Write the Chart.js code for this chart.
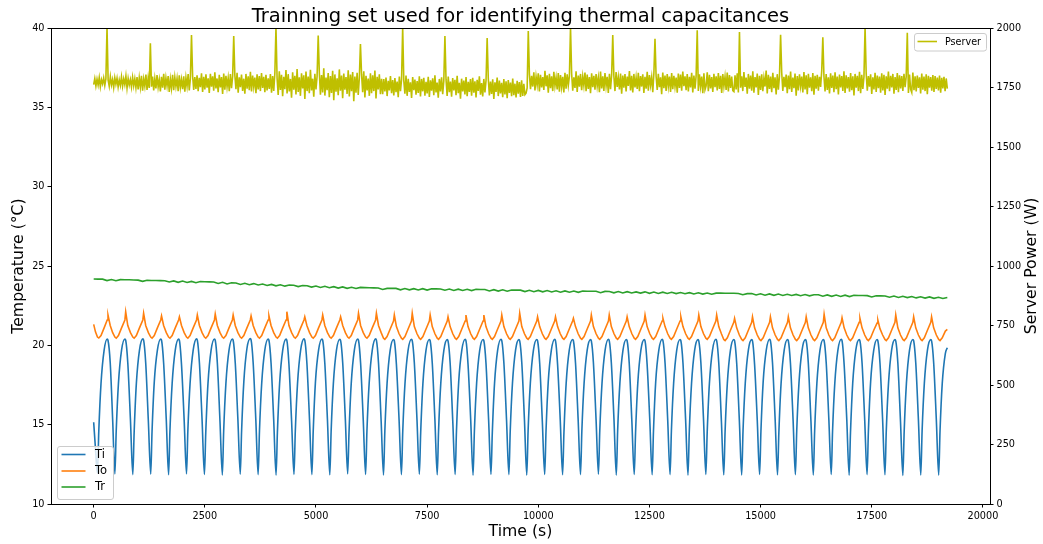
<!DOCTYPE html>
<html>
<head>
<meta charset="utf-8">
<style>
  html, body { margin: 0; padding: 0; background: #ffffff; }
  canvas { display: block; }
</style>
<script src="https://cdn.jsdelivr.net/npm/chart.js"></script>
</head>
<body>
<canvas id="c" width="1043" height="544"></canvas>
<script>
// ---------------- DATA ----------------
const chartTitle = 'Trainning set used for identifying thermal capacitances';
const xTitle = 'Time (s)';
const yTitle = 'Temperature (°C)';
const y2Title = 'Server Power (W)';

const xTicks = [0, 2500, 5000, 7500, 10000, 12500, 15000, 17500, 20000];
const yTicks = [10, 15, 20, 25, 30, 35, 40];
const y2Ticks = [0, 250, 500, 750, 1000, 1250, 1500, 1750, 2000];

// time stamps (s) of the Ti / To key points
const tempTime = [
  0, 40, 85, 115, 165, 235, 304, 322, 372, 427,
  477, 507, 557, 627, 702, 720, 767, 827,
  880, 910, 960, 1030, 1105, 1123, 1170, 1230,
  1283, 1313, 1363, 1433, 1508, 1526, 1573, 1633,
  1685, 1715, 1765, 1835, 1910, 1928, 1975, 2035,
  2088, 2118, 2168, 2238, 2313, 2331, 2378, 2438,
  2491, 2521, 2571, 2641, 2716, 2734, 2781, 2841,
  2894, 2924, 2974, 3044, 3119, 3137, 3184, 3244,
  3297, 3327, 3377, 3447, 3522, 3540, 3587, 3647,
  3699, 3729, 3779, 3849, 3924, 3942, 3989, 4049,
  4102, 4132, 4182, 4252, 4327, 4345, 4392, 4452,
  4505, 4535, 4585, 4655, 4730, 4748, 4795, 4855,
  4908, 4938, 4988, 5058, 5133, 5151, 5198, 5258,
  5311, 5341, 5391, 5461, 5536, 5554, 5601, 5661,
  5713, 5743, 5793, 5863, 5938, 5956, 6003, 6063,
  6116, 6146, 6196, 6266, 6341, 6359, 6406, 6466,
  6519, 6549, 6599, 6669, 6744, 6762, 6809, 6869,
  6922, 6952, 7002, 7072, 7147, 7165, 7212, 7272,
  7325, 7355, 7405, 7475, 7550, 7568, 7615, 7675,
  7727, 7757, 7807, 7877, 7952, 7970, 8017, 8077,
  8130, 8160, 8210, 8280, 8355, 8373, 8420, 8480,
  8533, 8563, 8613, 8683, 8758, 8776, 8823, 8883,
  8936, 8966, 9016, 9086, 9161, 9179, 9226, 9286,
  9339, 9369, 9419, 9489, 9564, 9582, 9629, 9689,
  9741, 9771, 9821, 9891, 9966, 9984, 10031, 10091,
  10144, 10174, 10224, 10294, 10369, 10387, 10434, 10494,
  10547, 10577, 10627, 10697, 10772, 10790, 10837, 10897,
  10950, 10980, 11030, 11100, 11175, 11193, 11240, 11300,
  11353, 11383, 11433, 11503, 11578, 11596, 11643, 11703,
  11755, 11785, 11835, 11905, 11980, 11998, 12045, 12105,
  12158, 12188, 12238, 12308, 12383, 12401, 12448, 12508,
  12561, 12591, 12641, 12711, 12786, 12804, 12851, 12911,
  12964, 12994, 13044, 13114, 13189, 13207, 13254, 13314,
  13367, 13397, 13447, 13517, 13592, 13610, 13657, 13717,
  13769, 13799, 13849, 13919, 13994, 14012, 14059, 14119,
  14172, 14202, 14252, 14322, 14397, 14415, 14462, 14522,
  14575, 14605, 14655, 14725, 14800, 14818, 14865, 14925,
  14978, 15008, 15058, 15128, 15203, 15221, 15268, 15328,
  15381, 15411, 15461, 15531, 15606, 15624, 15671, 15731,
  15783, 15813, 15863, 15933, 16008, 16026, 16073, 16133,
  16186, 16216, 16266, 16336, 16411, 16429, 16476, 16536,
  16589, 16619, 16669, 16739, 16814, 16832, 16879, 16939,
  16992, 17022, 17072, 17142, 17217, 17235, 17282, 17342,
  17395, 17425, 17475, 17545, 17620, 17638, 17685, 17745,
  17797, 17827, 17877, 17947, 18022, 18040, 18087, 18147,
  18200, 18230, 18280, 18350, 18425, 18443, 18490, 18550,
  18603, 18633, 18683, 18753, 18828, 18846, 18893, 18953,
  19006, 19036, 19086, 19156, 19200
];

// Ti (°C)
const ti = [
  15.15, 13.5, 11.95, 14.6, 17.6, 19.7, 20.4, 20.32, 18.9, 15.3,
  11.9, 14.6, 17.6, 19.7, 20.4, 20.32, 18.9, 15.3,
  11.85, 14.5, 17.6, 19.7, 20.41, 20.33, 18.9, 15.2,
  11.88, 14.6, 17.7, 19.7, 20.4, 20.32, 18.9, 15.3,
  11.84, 14.6, 17.6, 19.7, 20.39, 20.31, 18.8, 15.3,
  11.9, 14.6, 17.6, 19.7, 20.41, 20.33, 18.9, 15.3,
  11.86, 14.5, 17.6, 19.7, 20.4, 20.32, 18.9, 15.2,
  11.83, 14.6, 17.6, 19.7, 20.4, 20.32, 18.9, 15.3,
  11.88, 14.6, 17.7, 19.8, 20.42, 20.34, 18.9, 15.3,
  11.85, 14.6, 17.6, 19.7, 20.4, 20.32, 18.9, 15.3,
  11.82, 14.5, 17.6, 19.7, 20.39, 20.31, 18.8, 15.2,
  11.87, 14.6, 17.6, 19.7, 20.41, 20.33, 18.9, 15.3,
  11.85, 14.6, 17.7, 19.7, 20.4, 20.32, 18.9, 15.3,
  11.84, 14.6, 17.6, 19.7, 20.38, 20.3, 18.9, 15.3,
  11.9, 14.5, 17.6, 19.7, 20.4, 20.32, 18.9, 15.3,
  11.86, 14.6, 17.6, 19.7, 20.41, 20.33, 18.9, 15.2,
  11.83, 14.6, 17.6, 19.7, 20.37, 20.29, 18.8, 15.3,
  11.85, 14.6, 17.6, 19.7, 20.38, 20.3, 18.9, 15.3,
  11.88, 14.5, 17.6, 19.7, 20.37, 20.29, 18.9, 15.3,
  11.84, 14.6, 17.6, 19.7, 20.36, 20.28, 18.9, 15.2,
  11.86, 14.6, 17.7, 19.7, 20.38, 20.3, 18.8, 15.3,
  11.82, 14.6, 17.6, 19.7, 20.37, 20.29, 18.9, 15.3,
  11.87, 14.5, 17.6, 19.7, 20.38, 20.3, 18.9, 15.3,
  11.85, 14.6, 17.6, 19.7, 20.36, 20.28, 18.9, 15.3,
  11.83, 14.6, 17.6, 19.7, 20.37, 20.29, 18.9, 15.2,
  11.86, 14.6, 17.7, 19.7, 20.38, 20.3, 18.8, 15.3,
  11.84, 14.5, 17.6, 19.7, 20.37, 20.29, 18.9, 15.3,
  11.85, 14.6, 17.6, 19.7, 20.36, 20.28, 18.9, 15.3,
  11.88, 14.6, 17.6, 19.7, 20.38, 20.3, 18.9, 15.3,
  11.83, 14.6, 17.6, 19.7, 20.37, 20.29, 18.9, 15.2,
  11.86, 14.5, 17.6, 19.7, 20.36, 20.28, 18.8, 15.3,
  11.84, 14.6, 17.7, 19.7, 20.38, 20.3, 18.9, 15.3,
  11.85, 14.6, 17.6, 19.7, 20.37, 20.29, 18.9, 15.3,
  11.82, 14.6, 17.6, 19.7, 20.36, 20.28, 18.9, 15.3,
  11.86, 14.5, 17.6, 19.7, 20.38, 20.3, 18.9, 15.2,
  11.84, 14.6, 17.6, 19.7, 20.37, 20.29, 18.9, 15.3,
  11.83, 14.6, 17.6, 19.7, 20.36, 20.28, 18.8, 15.3,
  11.86, 14.6, 17.7, 19.7, 20.38, 20.3, 18.9, 15.3,
  11.84, 14.5, 17.6, 19.7, 20.37, 20.29, 18.9, 15.3,
  11.85, 14.6, 17.6, 19.7, 20.36, 20.28, 18.9, 15.2,
  11.83, 14.6, 17.6, 19.7, 20.37, 20.29, 18.9, 15.3,
  11.86, 14.6, 17.6, 19.7, 20.38, 20.3, 18.8, 15.3,
  11.82, 14.5, 17.6, 19.7, 20.36, 20.28, 18.9, 15.3,
  11.85, 14.6, 17.7, 19.7, 20.37, 20.29, 18.9, 15.3,
  11.84, 14.6, 17.6, 19.7, 20.36, 20.28, 18.9, 15.2,
  11.8, 14.6, 17.6, 19.7, 20.37, 20.29, 18.9, 15.3,
  11.83, 14.6, 17.6, 19.7, 20.36, 20.28, 18.9, 15.3,
  11.82, 14.6, 17.6, 19.5, 19.85
];

// To (°C)
const to = [
  21.32, 20.85, 20.52, 20.46, 20.62, 21.1, 21.6, 21.91, 21.25, 20.8,
  20.52, 20.45, 20.62, 21.1, 21.6, 22.12, 21.25, 20.8,
  20.52, 20.45, 20.62, 21.1, 21.6, 22.02, 21.25, 20.8,
  20.52, 20.45, 20.62, 21.1, 21.6, 21.85, 21.25, 20.8,
  20.52, 20.45, 20.62, 21.1, 21.6, 21.80, 21.25, 20.8,
  20.52, 20.45, 20.62, 21.1, 21.6, 21.91, 21.25, 20.8,
  20.52, 20.45, 20.62, 21.1, 21.6, 21.97, 21.25, 20.8,
  20.52, 20.45, 20.62, 21.1, 21.6, 21.91, 21.25, 20.8,
  20.52, 20.45, 20.62, 21.1, 21.6, 21.85, 21.25, 20.8,
  20.52, 20.45, 20.62, 21.1, 21.6, 21.85, 21.25, 20.8,
  20.52, 20.45, 20.62, 21.1, 21.6, 22.12, 21.25, 20.8,
  20.52, 20.45, 20.62, 21.1, 21.6, 21.80, 21.25, 20.8,
  20.52, 20.45, 20.62, 21.1, 21.6, 21.91, 21.25, 20.8,
  20.52, 20.45, 20.62, 21.1, 21.6, 21.80, 21.25, 20.8,
  20.52, 20.45, 20.62, 21.1, 21.6, 22.02, 21.25, 20.8,
  20.52, 20.45, 20.62, 21.1, 21.6, 22.02, 21.25, 20.8,
  20.45, 20.38, 20.55, 21.03, 21.53, 21.91, 21.18, 20.73,
  20.45, 20.38, 20.55, 21.03, 21.53, 22.02, 21.18, 20.73,
  20.45, 20.38, 20.55, 21.03, 21.53, 21.91, 21.18, 20.73,
  20.45, 20.38, 20.55, 21.03, 21.53, 21.80, 21.18, 20.73,
  20.45, 20.38, 20.55, 21.03, 21.53, 21.91, 21.18, 20.73,
  20.45, 20.38, 20.55, 21.03, 21.53, 21.91, 21.18, 20.73,
  20.45, 20.38, 20.55, 21.03, 21.53, 21.91, 21.18, 20.73,
  20.45, 20.38, 20.55, 21.03, 21.53, 22.02, 21.18, 20.73,
  20.45, 20.38, 20.55, 21.03, 21.53, 21.80, 21.18, 20.73,
  20.45, 20.38, 20.55, 21.03, 21.53, 21.80, 21.18, 20.73,
  20.45, 20.38, 20.55, 21.03, 21.53, 21.70, 21.18, 20.73,
  20.45, 20.38, 20.55, 21.03, 21.53, 21.91, 21.18, 20.73,
  20.45, 20.38, 20.55, 21.03, 21.53, 21.91, 21.18, 20.73,
  20.45, 20.38, 20.55, 21.03, 21.53, 21.80, 21.18, 20.73,
  20.45, 20.38, 20.55, 21.03, 21.53, 21.91, 21.18, 20.73,
  20.45, 20.38, 20.55, 21.03, 21.53, 21.70, 21.18, 20.73,
  20.45, 20.38, 20.55, 21.03, 21.53, 21.80, 21.18, 20.73,
  20.45, 20.38, 20.55, 21.03, 21.53, 21.91, 21.18, 20.73,
  20.45, 20.38, 20.55, 21.03, 21.53, 21.91, 21.18, 20.73,
  20.37, 20.3, 20.47, 20.95, 21.45, 21.70, 21.1, 20.65,
  20.37, 20.3, 20.47, 20.95, 21.45, 21.80, 21.1, 20.65,
  20.37, 20.3, 20.47, 20.95, 21.45, 21.80, 21.1, 20.65,
  20.37, 20.3, 20.47, 20.95, 21.45, 21.80, 21.1, 20.65,
  20.37, 20.3, 20.47, 20.95, 21.45, 21.80, 21.1, 20.65,
  20.37, 20.3, 20.47, 20.95, 21.45, 21.95, 21.1, 20.65,
  20.37, 20.3, 20.47, 20.95, 21.45, 21.74, 21.1, 20.65,
  20.37, 20.3, 20.47, 20.95, 21.45, 21.70, 21.1, 20.65,
  20.37, 20.3, 20.47, 20.95, 21.4, 21.59, 21.05, 20.65,
  20.37, 20.3, 20.47, 20.95, 21.45, 21.91, 21.1, 20.65,
  20.37, 20.3, 20.47, 20.95, 21.45, 21.80, 21.1, 20.65,
  20.37, 20.3, 20.47, 20.95, 21.45, 21.80, 21.1, 20.65,
  20.37, 20.3, 20.47, 20.9, 21.0
];

// Tr (°C), one sample every trStep seconds
const trStep = 100;
const tr = [
  24.18, 24.17, 24.17, 24.08, 24.15, 24.07, 24.14, 24.13, 24.13, 24.12,
  24.11, 24.03, 24.10, 24.09, 24.09, 24.08, 24.07, 23.99, 24.06, 23.97,
  24.05, 23.96, 24.03, 23.95, 24.02, 24.01, 24.00, 23.99, 23.90, 23.97,
  23.87, 23.94, 23.93, 23.84, 23.91, 23.82, 23.89, 23.80, 23.86, 23.77,
  23.84, 23.75, 23.82, 23.73, 23.80, 23.79, 23.70, 23.77, 23.76, 23.67,
  23.74, 23.65, 23.72, 23.63, 23.70, 23.61, 23.68, 23.59, 23.66, 23.58,
  23.65, 23.64, 23.63, 23.62, 23.61, 23.52, 23.59, 23.59, 23.59, 23.50,
  23.58, 23.50, 23.57, 23.49, 23.57, 23.48, 23.56, 23.56, 23.55, 23.47,
  23.55, 23.46, 23.54, 23.46, 23.53, 23.45, 23.53, 23.52, 23.52, 23.43,
  23.51, 23.42, 23.50, 23.41, 23.49, 23.48, 23.48, 23.39, 23.47, 23.38,
  23.46, 23.37, 23.45, 23.36, 23.44, 23.35, 23.43, 23.35, 23.42, 23.34,
  23.42, 23.41, 23.41, 23.41, 23.32, 23.40, 23.39, 23.31, 23.39, 23.30,
  23.38, 23.30, 23.37, 23.29, 23.37, 23.28, 23.36, 23.27, 23.35, 23.27,
  23.34, 23.26, 23.33, 23.25, 23.32, 23.24, 23.31, 23.23, 23.30, 23.22,
  23.29, 23.29, 23.28, 23.28, 23.28, 23.27, 23.19, 23.26, 23.26, 23.17,
  23.25, 23.16, 23.24, 23.15, 23.23, 23.14, 23.22, 23.14, 23.21, 23.13,
  23.20, 23.12, 23.19, 23.19, 23.10, 23.18, 23.09, 23.17, 23.08, 23.16,
  23.07, 23.15, 23.14, 23.14, 23.13, 23.05, 23.12, 23.12, 23.11, 23.03,
  23.11, 23.02, 23.09, 23.01, 23.08, 22.99, 23.06, 22.98, 23.05, 22.96,
  23.03, 22.95, 23.02
];

// Pserver (W), one sample every pserverStep seconds
const pserverStep = 25;
const pserver = [
  // 0 - 975 s
  1762, 1788, 1756, 1785, 1760, 1792, 1753, 1783, 1765, 1790,
  1758, 1787, 2003, 1781, 1755, 1796, 1761, 1784, 1750, 1791,
  1764, 1789, 1752, 1782, 1759, 1795, 1755, 1786, 1762, 1798,
  1748, 1788, 1760, 1783, 1752, 1793, 1757, 1787, 1749, 1794,
  // 1000 - 2275 s
  1742, 1791, 1751, 1799, 1737, 1786, 1755, 1804, 1740, 1789,
  1748, 1936, 1753, 1796, 1738, 1787, 1746, 1802, 1752, 1783,
  1733, 1795, 1749, 1808, 1741, 1790, 1756, 1798, 1731, 1785,
  1747, 1803, 1739, 1793, 1754, 1788, 1735, 1801, 1750, 1784,
  1743, 1797, 1732, 1791, 1755, 1806, 1738, 1788, 1971, 1798,
  1740, 1794,
  // 2300 - 3975 s
  1744, 1801, 1735, 1791, 1751, 1810, 1731, 1795, 1742, 1805,
  1749, 1789, 1727, 1808, 1753, 1797, 1737, 1814, 1746, 1788,
  1730, 1803, 1750, 1794, 1723, 1809, 1741, 1799, 1752, 1790,
  1734, 1806, 1747, 1796, 1966, 1802, 1743, 1812, 1728, 1793,
  1751, 1804, 1736, 1787, 1724, 1807, 1745, 1797, 1739, 1816,
  1733, 1800, 1753, 1792, 1726, 1805, 1742, 1798, 1735, 1811,
  1748, 1795, 1730, 1803, 1738, 1789, 1744, 1806,
  // 4000 - 6475 s
  1728, 1798, 1736, 1811, 2003, 1790, 1719, 1818, 1740, 1803,
  1713, 1795, 1743, 1823, 1725, 1806, 1733, 1786, 1707, 1814,
  1741, 1799, 1721, 1828, 1731, 1793, 1715, 1810, 1746, 1801,
  1702, 1817, 1735, 1796, 1726, 1824, 1738, 1787, 1711, 1808,
  1742, 1797, 1968, 1813, 1720, 1802, 1729, 1831, 1716, 1792,
  1739, 1811, 1709, 1798, 1727, 1820, 1697, 1805, 1732, 1789,
  1718, 1826, 1737, 1800, 1705, 1809, 1741, 1794, 1723, 1822,
  1712, 1804, 1734, 1815, 1692, 1796, 1728, 1812, 1719, 1790,
  1933, 1806, 1730, 1818, 1708, 1799, 1738, 1788, 1715, 1810,
  1726, 1801, 1735, 1821, 1704, 1795, 1742, 1805, 1722, 1787,
  // 6500 - 9750 s
  1722, 1785, 1733, 1792, 1714, 1778, 1738, 1798, 1726, 1781,
  1717, 1790, 1730, 1775, 1709, 1796, 1735, 1784, 2003, 1779,
  1724, 1800, 1715, 1787, 1731, 1772, 1706, 1794, 1739, 1783,
  1720, 1777, 1727, 1797, 1712, 1786, 1734, 1791, 1716, 1774,
  1725, 1795, 1710, 1780, 1737, 1789, 1718, 1801, 1729, 1771,
  1707, 1786, 1733, 1793, 1722, 1778, 1966, 1784, 1714, 1796,
  1730, 1775, 1711, 1790, 1738, 1782, 1718, 1799, 1726, 1770,
  1703, 1787, 1734, 1779, 1721, 1794, 1713, 1774, 1731, 1785,
  1716, 1791, 1728, 1776, 1708, 1782, 1736, 1797, 1720, 1769,
  1712, 1786, 1729, 1780, 1958, 1790, 1717, 1775, 1723, 1784,
  1702, 1772, 1731, 1792, 1714, 1779, 1725, 1770, 1709, 1785,
  1721, 1776, 1705, 1781, 1727, 1771, 1713, 1788, 1718, 1766,
  1708, 1778, 1724, 1773, 1710, 1780, 1715, 1765, 1720,
  1726, 1748,
  // 9775 - 14375 s
  1987, 1806, 1743, 1799, 1754, 1814, 1738, 1796, 1760, 1810,
  1733, 1803, 1750, 1794, 1740, 1820, 1755, 1801, 1728, 1808,
  1747, 1797, 1735, 1816, 1757, 1792, 1742, 1811, 1732, 1802,
  1752, 1795, 1729, 1812, 1745, 1805, 1759, 1798, 2003, 1809,
  1737, 1793, 1748, 1818, 1731, 1800, 1753, 1807, 1739, 1796,
  1758, 1813, 1734, 1804, 1744, 1794, 1726, 1810, 1751, 1799,
  1741, 1806, 1755, 1791, 1730, 1817, 1746, 1797, 1736, 1811,
  1756, 1795, 1727, 1808, 1743, 1803, 1970, 1798, 1735, 1815,
  1752, 1793, 1742, 1809, 1724, 1800, 1749, 1806, 1733, 1796,
  1757, 1819, 1738, 1799, 1729, 1807, 1750, 1792, 1744, 1812,
  1734, 1798, 1754, 1805, 1727, 1795, 1745, 1816, 1737, 1802,
  1759, 1794, 1730, 1810, 1955, 1797, 1740, 1808, 1751, 1793,
  1722, 1813, 1747, 1800, 1736, 1806, 1755, 1796, 1731, 1811,
  1743, 1799, 1753, 1792, 1728, 1809, 1748, 1804, 1737, 1817,
  1756, 1797, 1739, 1807, 1733, 1795, 1750, 1812, 1729, 1800,
  1745, 1798, 1990, 1735, 1805, 1754, 1796, 1726, 1810, 1741,
  1757, 1814, 1734, 1803, 1746, 1794, 1731, 1808, 1751, 1797,
  1738, 1811, 1744, 1799, 1727, 1806, 1755, 1795, 1740, 1813,
  1733, 1802, 1748, 1796, 1737,
  // 14400 - 19200 s
  1733, 1801, 1742, 1810, 1729, 1983, 1749, 1797, 1735, 1815,
  1752, 1792, 1724, 1807, 1745, 1800, 1737, 1818, 1728, 1794,
  1750, 1809, 1719, 1799, 1740, 1805, 1734, 1790, 1754, 1821,
  1725, 1803, 1744, 1796, 1730, 1812, 1747, 1793, 1721, 1806,
  1741, 1798, 1972, 1813, 1736, 1795, 1751, 1804, 1726, 1800,
  1743, 1817, 1731, 1792, 1747, 1809, 1716, 1798, 1738, 1805,
  1755, 1796, 1729, 1815, 1742, 1801, 1722, 1808, 1749, 1793,
  1734, 1811, 1720, 1799, 1745, 1803, 1737, 1795, 1752, 1820,
  1961, 1797, 1733, 1806, 1740, 1793, 1725, 1810, 1748, 1800,
  1730, 1814, 1743, 1796, 1721, 1804, 1750, 1798, 1736, 1818,
  1727, 1801, 1746, 1794, 1732, 1811, 1739, 1797, 1717, 1807,
  1749, 1799, 1735, 1816, 1726, 1803, 1744, 1795, 2003, 1809,
  1737, 1798, 1753, 1805, 1723, 1793, 1742, 1812, 1731, 1800,
  1747, 1796, 1728, 1810, 1738, 1803, 1719, 1797, 1745, 1817,
  1734, 1799, 1750, 1807, 1724, 1794, 1740, 1811, 1730, 1801,
  1746, 1798, 1736, 1808, 1751, 1795, 1980, 1727, 1804, 1742,
  1729, 1813, 1739, 1797, 1733, 1800, 1748, 1793, 1725, 1809,
  1741, 1796, 1735, 1805, 1722, 1799, 1749, 1794, 1737, 1802,
  1731, 1798, 1744, 1792, 1738, 1800, 1728, 1791, 1746, 1795,
  1735, 1788, 1745
];

// ---------------- CHART ----------------
const FONT = '"DejaVu Sans", "Liberation Sans", sans-serif';
Chart.defaults.font.family = FONT;
Chart.defaults.color = '#000';

const pts = (xs, ys) => ys.map((v, i) => ({ x: xs[i], y: v }));
const stepPts = (step, ys) => ys.map((v, i) => ({ x: i * step, y: v }));

const COLORS = { Ti: '#1f77b4', To: '#ff7f0e', Tr: '#2ca02c', Pserver: '#bfbf00' };
const LW = 1.6;

const overlay = {
  id: 'overlay',
  afterDraw(chart) {
    const { ctx, chartArea: a } = chart;
    ctx.save();
    // top spine
    ctx.strokeStyle = '#000';
    ctx.lineWidth = 1;
    ctx.beginPath();
    ctx.moveTo(a.left, Math.round(a.top) + 0.5);
    ctx.lineTo(a.right + 1, Math.round(a.top) + 0.5);
    ctx.stroke();

    // title
    ctx.fillStyle = '#000';
    ctx.font = '19.5px ' + FONT;
    ctx.textAlign = 'center';
    ctx.textBaseline = 'alphabetic';
    ctx.fillText(chartTitle, (a.left + a.right) / 2, a.top - 5.6);

    // right axis title (reads bottom to top)
    ctx.save();
    ctx.translate(a.right + 42, (a.top + a.bottom) / 2);
    ctx.rotate(-Math.PI / 2);
    ctx.font = '15.7px ' + FONT;
    ctx.textAlign = 'center';
    ctx.textBaseline = 'middle';
    ctx.fillText(y2Title, 0, 0);
    ctx.restore();

    const drawLegend = (box, items, fontPx, handleX0, handleX1, textX, rowY) => {
      ctx.save();
      ctx.beginPath();
      ctx.roundRect(box.x + 0.5, box.y + 0.5, box.w, box.h, 2.5);
      ctx.fillStyle = 'rgba(255,255,255,0.8)';
      ctx.fill();
      ctx.strokeStyle = '#cccccc';
      ctx.lineWidth = 1;
      ctx.stroke();
      ctx.font = fontPx + 'px ' + FONT;
      ctx.textAlign = 'left';
      ctx.textBaseline = 'middle';
      items.forEach((it, i) => {
        const y = rowY[i];
        ctx.strokeStyle = it.color;
        ctx.lineWidth = LW;
        ctx.beginPath();
        ctx.moveTo(handleX0, y);
        ctx.lineTo(handleX1, y);
        ctx.stroke();
        ctx.fillStyle = '#000';
        ctx.fillText(it.label, textX, y + 0.5);
      });
      ctx.restore();
    };

    const ds = chart.data.datasets;
    const lower = ds.filter(d => d.yAxisID === 'y').map(d => ({ label: d.label, color: d.borderColor }));
    const upper = ds.filter(d => d.yAxisID === 'y2').map(d => ({ label: d.label, color: d.borderColor }));

    // lower-left legend (Ti, To, Tr)
    const bx = a.left + 6, bh = 53, by = a.bottom - 5 - bh;
    drawLegend({ x: bx, y: by, w: 56, h: bh }, lower, 11.5,
      bx + 4.5, bx + 28.5, bx + 38, [by + 8.5, by + 25, by + 41]);

    // upper-right legend (Pserver)
    const rw = 72, rx = a.right - 4 - rw, ry = a.top + 5;
    drawLegend({ x: rx, y: ry, w: rw, h: 17.5 }, upper, 9.6,
      rx + 3.5, rx + 23, rx + 31, [ry + 8.5]);

    ctx.restore();
  }
};

const tickFont = { size: 9.7, family: FONT };
const axisCommon = {
  grid: { drawOnChartArea: false, drawTicks: true, tickLength: 3.5, color: '#000', lineWidth: 1 },
  border: { display: true, color: '#000', width: 1 },
};

new Chart(document.getElementById('c'), {
  type: 'line',
  data: {
    datasets: [
      { label: 'Ti', data: pts(tempTime, ti), yAxisID: 'y', borderColor: COLORS.Ti,
        borderWidth: LW, cubicInterpolationMode: 'monotone', order: 4 },
      { label: 'To', data: pts(tempTime, to), yAxisID: 'y', borderColor: COLORS.To,
        borderWidth: LW, tension: 0, order: 3 },
      { label: 'Tr', data: stepPts(trStep, tr), yAxisID: 'y', borderColor: COLORS.Tr,
        borderWidth: LW, tension: 0, order: 2 },
      { label: 'Pserver', data: stepPts(pserverStep, pserver), yAxisID: 'y2', borderColor: COLORS.Pserver,
        borderWidth: LW, tension: 0, order: 1 }
    ]
  },
  options: {
    responsive: false,
    animation: false,
    events: [],
    layout: { padding: { top: 28, left: 0, right: 0, bottom: 0 } },
    elements: { point: { radius: 0 }, line: { fill: false } },
    plugins: { legend: { display: false }, title: { display: false }, tooltip: { enabled: false } },
    scales: {
      x: {
        type: 'linear', position: 'bottom', min: -960, max: 20160,
        ...axisCommon,
        afterBuildTicks: s => { s.ticks = xTicks.map(v => ({ value: v })); },
        afterFit: s => { s.height = 40; },
        ticks: { font: tickFont, color: '#000', padding: 3, maxRotation: 0, autoSkip: false,
                 callback: v => String(v) },
        title: { display: true, text: xTitle, color: '#000', font: { size: 15.7, family: FONT },
                 padding: { top: 0, bottom: 2.5 } }
      },
      y: {
        type: 'linear', position: 'left', min: 10, max: 40,
        ...axisCommon,
        afterBuildTicks: s => { s.ticks = yTicks.map(v => ({ value: v })); },
        afterFit: s => { s.width = 51; },
        ticks: { font: tickFont, color: '#000', padding: 3, autoSkip: false, callback: v => String(v) },
        title: { display: true, text: yTitle, color: '#000', font: { size: 15.7, family: FONT },
                 padding: { top: 9.5, bottom: 0 } }
      },
      y2: {
        type: 'linear', position: 'right', min: 0, max: 2000,
        ...axisCommon,
        afterBuildTicks: s => { s.ticks = y2Ticks.map(v => ({ value: v })); },
        afterFit: s => { s.width = 53; },
        ticks: { font: tickFont, color: '#000', padding: 3, autoSkip: false, callback: v => String(v) }
      }
    }
  },
  plugins: [overlay]
});
</script>
</body>
</html>
